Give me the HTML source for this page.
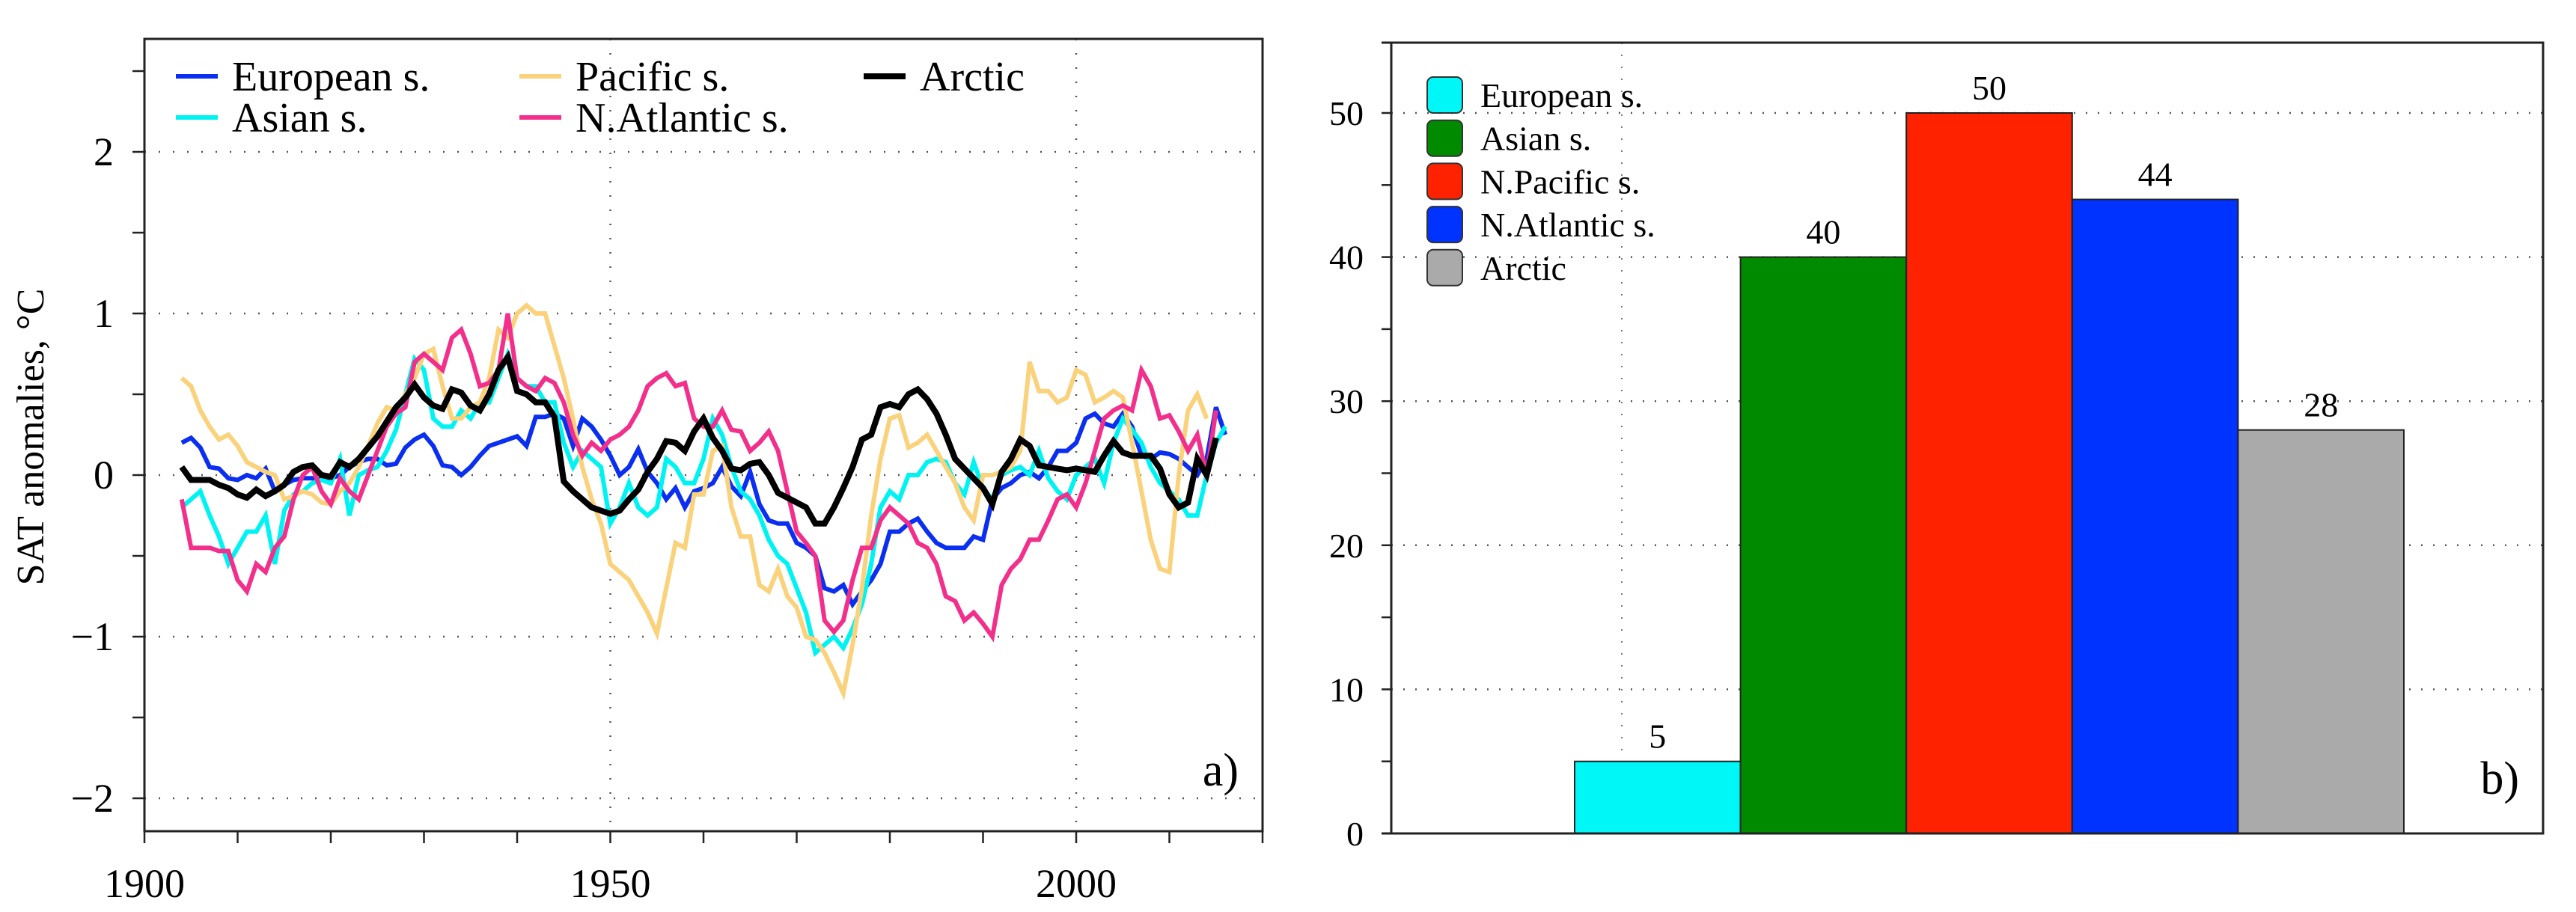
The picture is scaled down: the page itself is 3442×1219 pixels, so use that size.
<!DOCTYPE html>
<html><head><meta charset="utf-8"><style>
html,body{margin:0;padding:0;background:#fff}
svg{display:block}
svg text{font-family:"Liberation Serif","DejaVu Serif",serif}
</style></head><body>
<svg id="svg" width="3442" height="1219" viewBox="0 0 3442 1219" font-family="Liberation Serif, DejaVu Serif, serif">
<g id="pa"></g>
<g id="pb"></g>
</svg>
<script>
const years=[];for(let y=1904;y<=2016;y++)years.push(y);
const european=[0.2,0.23,0.17,0.05,0.04,-0.02,-0.03,0.0,-0.02,0.04,-0.1,-0.06,-0.03,-0.02,-0.02,-0.03,-0.02,0.0,0.05,0.08,0.1,0.1,0.06,0.07,0.17,0.22,0.25,0.18,0.06,0.05,0.0,0.05,0.12,0.18,0.2,0.22,0.24,0.18,0.36,0.36,0.38,0.35,0.18,0.35,0.3,0.22,0.12,0.0,0.05,0.16,0.02,-0.05,-0.15,-0.08,-0.2,-0.1,-0.08,-0.05,0.05,-0.07,-0.13,0.02,-0.18,-0.28,-0.3,-0.3,-0.42,-0.45,-0.5,-0.7,-0.72,-0.68,-0.8,-0.72,-0.65,-0.55,-0.35,-0.35,-0.3,-0.27,-0.35,-0.42,-0.45,-0.45,-0.45,-0.38,-0.4,-0.15,-0.08,-0.05,0.0,0.02,-0.02,0.05,0.15,0.15,0.2,0.35,0.38,0.32,0.3,0.38,0.3,0.12,0.1,0.14,0.13,0.1,0.05,0.0,0.1,0.42,0.25];
const asian=[-0.2,-0.15,-0.1,-0.25,-0.38,-0.55,-0.45,-0.35,-0.35,-0.25,-0.55,-0.22,-0.12,-0.1,-0.05,-0.03,-0.05,0.1,-0.25,0.0,0.03,0.05,0.15,0.28,0.5,0.72,0.65,0.35,0.3,0.3,0.4,0.35,0.45,0.45,0.6,0.75,0.6,0.55,0.55,0.45,0.45,0.2,0.05,0.15,0.1,0.05,-0.3,-0.2,-0.05,-0.2,-0.25,-0.2,0.1,0.05,-0.05,-0.05,0.1,0.35,0.25,0.05,-0.1,-0.15,-0.25,-0.4,-0.5,-0.55,-0.7,-0.85,-1.1,-1.05,-1.0,-1.07,-0.95,-0.8,-0.55,-0.2,-0.1,-0.15,0.0,0.0,0.08,0.1,0.08,-0.05,-0.12,0.08,-0.08,-0.15,0.0,0.03,0.05,0.0,0.15,-0.02,-0.1,-0.15,0.0,0.05,0.1,-0.05,0.2,0.35,0.28,0.2,0.05,-0.05,-0.1,-0.15,-0.25,-0.25,0.0,0.2,0.3];
const pacific=[0.6,0.55,0.4,0.3,0.22,0.25,0.18,0.08,0.05,0.02,0.0,-0.15,-0.13,-0.1,-0.12,-0.17,-0.18,-0.1,-0.05,0.05,0.18,0.32,0.42,0.4,0.5,0.6,0.75,0.78,0.55,0.35,0.35,0.42,0.45,0.6,0.9,0.85,1.0,1.05,1.0,1.0,0.8,0.6,0.35,0.05,-0.15,-0.3,-0.55,-0.6,-0.65,-0.75,-0.85,-0.98,-0.7,-0.42,-0.45,-0.12,-0.12,0.15,0.18,-0.2,-0.38,-0.38,-0.68,-0.72,-0.58,-0.75,-0.82,-1.0,-1.02,-1.1,-1.22,-1.35,-1.05,-0.7,-0.25,0.1,0.35,0.37,0.17,0.2,0.25,0.15,0.05,-0.05,-0.2,-0.28,0.0,0.0,0.02,0.05,0.15,0.7,0.52,0.52,0.45,0.48,0.65,0.62,0.45,0.48,0.52,0.48,0.2,-0.1,-0.4,-0.58,-0.6,0.0,0.4,0.5,0.35];
const atlantic=[-0.15,-0.45,-0.45,-0.45,-0.47,-0.47,-0.65,-0.72,-0.55,-0.6,-0.45,-0.38,-0.15,0.0,0.05,-0.1,-0.18,-0.02,-0.1,-0.15,0.0,0.15,0.3,0.38,0.42,0.7,0.75,0.7,0.65,0.85,0.9,0.75,0.55,0.57,0.65,1.0,0.6,0.55,0.52,0.6,0.57,0.45,0.25,0.12,0.2,0.15,0.22,0.25,0.3,0.4,0.55,0.6,0.63,0.55,0.57,0.35,0.3,0.3,0.4,0.28,0.27,0.15,0.2,0.27,0.15,-0.1,-0.35,-0.42,-0.5,-0.9,-0.97,-0.9,-0.65,-0.45,-0.45,-0.28,-0.2,-0.25,-0.3,-0.42,-0.45,-0.55,-0.75,-0.78,-0.9,-0.85,-0.92,-1.0,-0.68,-0.58,-0.52,-0.4,-0.4,-0.28,-0.15,-0.12,-0.2,-0.05,0.15,0.35,0.4,0.43,0.4,0.65,0.55,0.35,0.37,0.27,0.15,0.25,0.0,0.4];
const arctic=[0.05,-0.03,-0.03,-0.03,-0.06,-0.08,-0.12,-0.14,-0.09,-0.13,-0.1,-0.06,0.02,0.05,0.06,0.0,-0.01,0.08,0.05,0.1,0.17,0.24,0.33,0.42,0.48,0.56,0.48,0.43,0.41,0.53,0.51,0.43,0.4,0.5,0.65,0.73,0.52,0.5,0.45,0.45,0.36,-0.04,-0.1,-0.15,-0.2,-0.22,-0.24,-0.22,-0.15,-0.09,0.02,0.1,0.21,0.2,0.15,0.27,0.35,0.23,0.15,0.04,0.03,0.07,0.08,0.0,-0.11,-0.14,-0.17,-0.2,-0.3,-0.3,-0.2,-0.08,0.05,0.22,0.25,0.42,0.44,0.42,0.5,0.53,0.47,0.38,0.25,0.1,0.04,-0.02,-0.08,-0.18,0.02,0.1,0.22,0.18,0.06,0.05,0.04,0.03,0.04,0.03,0.02,0.12,0.21,0.14,0.12,0.12,0.12,0.04,-0.12,-0.2,-0.17,0.1,0.0,0.23];
const xTicksA=[1900,1950,2000];
const yTicksA=[-2,-1,0,1,2];
const barNames=["European s.","Asian s.","N.Pacific s.","N.Atlantic s.","Arctic"];
const barValues=[5,40,50,44,28];
const yTicksB=[0,10,20,30,40,50];
</script>
<script>
const NS="http://www.w3.org/2000/svg";
const FF="Liberation Serif, DejaVu Serif, serif";
function mk(par,tag,at,txt){const e=document.createElementNS(NS,tag);for(const k in at)e.setAttribute(k,at[k]);if(tag==='text')e.setAttribute('font-family',FF);if(txt!==undefined)e.textContent=txt;par.appendChild(e);return e;}
// Panel A
const pa=document.getElementById('pa');
const AL=193,AR=1687,AT=52,AB=1111;
const xA=y=>AL+(y-1900)*(1438-193)/100;
const yA=v=>635-v*216;
mk(pa,'rect',{x:0,y:0,width:1720,height:1219,fill:'#fff'});
yTicksA.forEach(v=>{const g=mk(pa,'line',{x1:AL,x2:AR,y1:yA(v),y2:yA(v),stroke:'#555','stroke-width':2.5,'stroke-dasharray':'2 17'});
});
[1950,2000].forEach(y=>{const g=mk(pa,'line',{x1:xA(y),x2:xA(y),y1:AT,y2:AB,stroke:'#555','stroke-width':2.5,'stroke-dasharray':'2 17'});
});
const series=[["european-line",european,'#0a2ff0',6],["asian-line",asian,'#00f3f3',6],["pacific-line",pacific,'#fbd27c',6],["atlantic-line",atlantic,'#f2308c',6],["arctic-line",arctic,'#000',8]];
series.forEach(s=>{const d=s[1].map((v,i)=>(i?'L':'M')+xA(years[i]).toFixed(1)+' '+yA(v).toFixed(1)).join('');
const p=mk(pa,'path',{d:d,fill:'none',stroke:s[2],'stroke-width':s[3],'stroke-linejoin':'miter'});
});
const fr=mk(pa,'rect',{x:AL,y:AT,width:AR-AL,height:AB-AT,fill:'none',stroke:'#222','stroke-width':3});

for(let v=-2;v<=2.5;v+=0.5){mk(pa,'line',{x1:AL-16,x2:AL,y1:yA(v),y2:yA(v),stroke:'#222','stroke-width':2.5});}
for(let y=1900;y<=2020;y+=10){mk(pa,'line',{x1:xA(y),x2:xA(y),y1:AB,y2:AB+16,stroke:'#222','stroke-width':2.5});}
yTicksA.forEach(v=>{const t=mk(pa,'text',{x:152,y:yA(v)+18,'font-size':54,'text-anchor':'end'},v<0?'\u2212'+(-v):String(v));
});
xTicksA.forEach(y=>{const t=mk(pa,'text',{x:xA(y),y:1199,'font-size':54,'text-anchor':'middle'},String(y));
});
const yt=mk(pa,'text',{x:0,y:0,'font-size':52,'text-anchor':'middle',transform:'translate(58,584) rotate(-90)'},'SAT anomalies, \u00B0C');

const lab=mk(pa,'text',{x:1655,y:1050,'font-size':62,'text-anchor':'end'},'a)');

const legA=[["European s.",'#0a2ff0',235,102,6],["Asian s.",'#00f3f3',235,157,6],["Pacific s.",'#fbd27c',694,102,6],["N.Atlantic s.",'#f2308c',694,157,6],["Arctic",'#000',1154,102,8]];
legA.forEach(l=>{const g=mk(pa,'g',{});
mk(g,'line',{x1:l[2],x2:l[2]+56,y1:l[3],y2:l[3],stroke:l[1],'stroke-width':l[4]});
mk(g,'text',{x:l[2]+75,y:l[3]+19,'font-size':56},l[0]);});
// Panel B
const pb=document.getElementById('pb');
const BL=1859,BR=3398,BT=57,BB=1114;
const yB=v=>BB-v*(BB-151)/50;
const bw=221.6,bx0=2104;
yTicksB.slice(1).forEach(v=>{const g=mk(pb,'line',{x1:BL,x2:BR,y1:yB(v),y2:yB(v),stroke:'#555','stroke-width':2.5,'stroke-dasharray':'2 14'});
});
const vg=mk(pb,'line',{x1:2167,x2:2167,y1:BT,y2:BB,stroke:'#777','stroke-width':2,'stroke-dasharray':'2 14'});

const barCols=['#00f7f7','#008a00','#ff2200','#0033ff','#aaaaaa'];
barValues.forEach((v,i)=>{const r=mk(pb,'rect',{x:bx0+i*bw,y:yB(v),width:bw,height:BB-yB(v),fill:barCols[i],stroke:'#222','stroke-width':2});

const t=mk(pb,'text',{x:bx0+i*bw+bw/2,y:yB(v)-18,'font-size':46,'text-anchor':'middle'},String(v));
});
const fb=mk(pb,'rect',{x:BL,y:BT,width:BR-BL,height:BB-BT,fill:'none',stroke:'#222','stroke-width':3});

mk(pb,'line',{x1:1846,x2:BL,y1:BT,y2:BT,stroke:'#222','stroke-width':3});
mk(pb,'line',{x1:1846,x2:BL,y1:BB,y2:BB,stroke:'#222','stroke-width':3});
for(let v=5;v<=50;v+=5){mk(pb,'line',{x1:1846,x2:BL,y1:yB(v),y2:yB(v),stroke:'#222','stroke-width':2.5});}
yTicksB.forEach(v=>{const t=mk(pb,'text',{x:1822,y:yB(v)+16,'font-size':46,'text-anchor':'end'},String(v));
});
const lb=mk(pb,'text',{x:3366,y:1061,'font-size':62,'text-anchor':'end'},'b)');

barNames.forEach((n,i)=>{const g=mk(pb,'g',{});
const y=127+i*57.7;
mk(g,'rect',{x:1907,y:y-24,width:47,height:48,rx:8,fill:barCols[i],stroke:'#333','stroke-width':2});
mk(g,'text',{x:1978,y:y+16,'font-size':46},n);});
</script>
</body></html>
